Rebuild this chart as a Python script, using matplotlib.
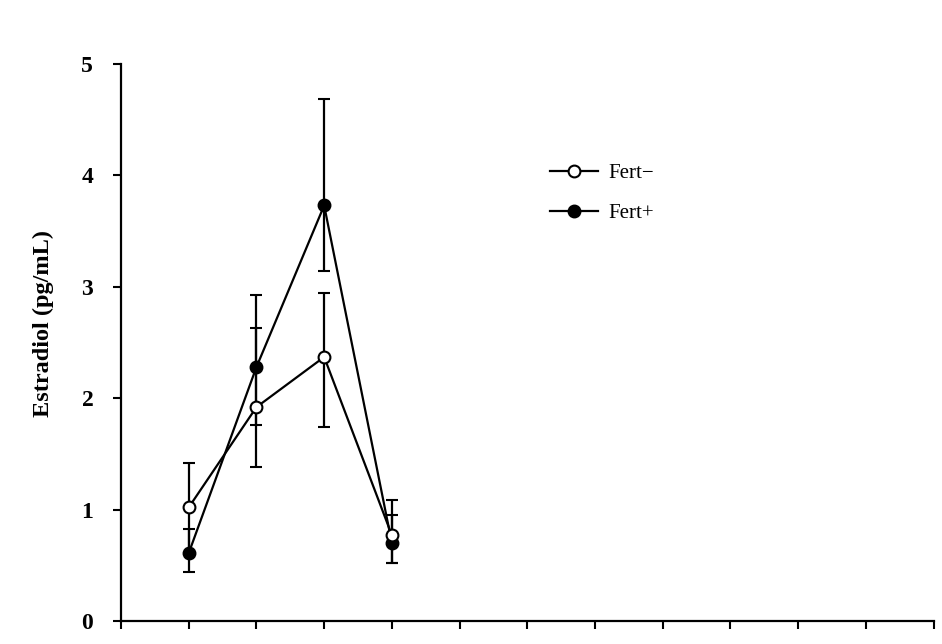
import matplotlib
matplotlib.use("Agg")
import matplotlib.pyplot as plt

# data
timepoints = [1, 2, 3, 4]
fert_neg = [1.02, 1.92, 2.37, 0.77]
fert_neg_lo = [0.40, 0.54, 0.63, 0.25]
fert_neg_hi = [0.40, 0.71, 0.57, 0.32]
fert_pos = [0.61, 2.28, 3.73, 0.70]
fert_pos_lo = [0.17, 0.52, 0.59, 0.18]
fert_pos_hi = [0.22, 0.65, 0.96, 0.25]
labels = ["Fert\u2212", "Fert+"]
y_ticks = [0, 1, 2, 3, 4, 5]
x_ticks = list(range(0, 13))

plt.rcParams['font.family'] = ['Liberation Serif', 'DejaVu Serif']

fig = plt.figure(figsize=(9.42, 6.44), dpi=100)
ax = fig.add_axes([0.1285, 0.0357, 0.8625, 0.8649])

style = dict(color='black', lw=1.6, ms=8.5, mew=1.5, elinewidth=1.6,
             capsize=4.5, capthick=1.8, zorder=3)
ax.errorbar(timepoints, fert_pos, yerr=[fert_pos_lo, fert_pos_hi], marker='o',
            mfc='black', mec='black', label=labels[1], **style)
ax.errorbar(timepoints, fert_neg, yerr=[fert_neg_lo, fert_neg_hi], marker='o',
            mfc='white', mec='black', label=labels[0], **style)

ax.set_xlim(0, 12)
ax.set_ylim(0, 5)
ax.set_xticks(x_ticks)
ax.set_xticklabels([''] * len(x_ticks))
ax.set_yticks(y_ticks)
ax.set_yticklabels([str(t) for t in y_ticks], fontsize=17, fontweight='bold')
ax.set_ylabel("Estradiol (pg/mL)", fontsize=17.5, fontweight='bold')
# label sits a bit above the middle of the axis in the original
ax.yaxis.set_label_coords(-0.082, 0.535)

for side in ['top', 'right']:
    ax.spines[side].set_visible(False)
for side in ['left', 'bottom']:
    ax.spines[side].set_linewidth(1.6)
ax.tick_params(direction='out', length=6, width=1.5)
ax.tick_params(axis='y', pad=14)

# legend: lines with markers only, no error bars
h, l = ax.get_legend_handles_labels()
handles = [hh[0] for hh in h]
ax.legend(handles[::-1], l[::-1], frameon=False, fontsize=15,
          loc='center left', bbox_to_anchor=(0.528, 0.768),
          borderpad=0, borderaxespad=0,
          handlelength=2.3, handletextpad=0.48, labelspacing=1.0)

fig.savefig("out.png", dpi=100)
